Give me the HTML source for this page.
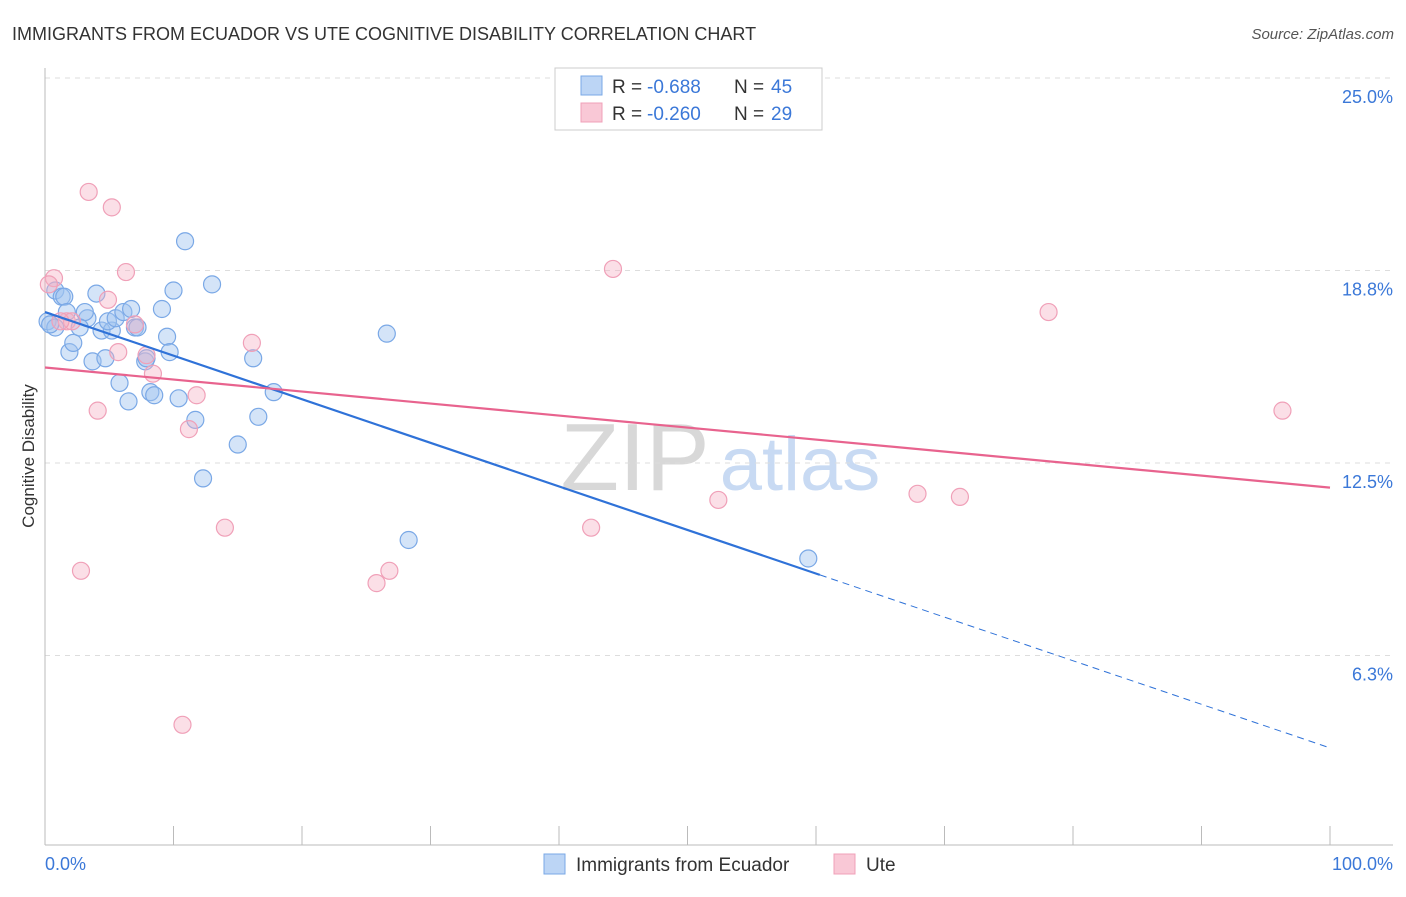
<!DOCTYPE html>
<html><head><meta charset="utf-8"><style>
body{margin:0;background:#fff;font-family:"Liberation Sans",sans-serif;}
svg text{font-family:"Liberation Sans",sans-serif;}
</style></head><body>
<svg id="chart" width="1406" height="892">
<text x="12" y="40" font-size="18" fill="#333">IMMIGRANTS FROM ECUADOR VS UTE COGNITIVE DISABILITY CORRELATION CHART</text>
<text x="1394" y="39" font-size="15" fill="#555" font-style="italic" text-anchor="end">Source: ZipAtlas.com</text>
<text x="34" y="456" font-size="17" fill="#333" text-anchor="middle" transform="rotate(-90 34 456)">Cognitive Disability</text>
<text x="635" y="490" font-size="96" fill="#d8d8d8" font-family="Liberation Serif" text-anchor="middle">ZIP</text>
<text x="800" y="490" font-size="76" fill="#c8daf3" text-anchor="middle">atlas</text>
<g id="grid"></g><g id="axes"></g><g id="pts"></g><g id="trend"></g>
<g>
<rect x="555" y="68" width="267" height="62" fill="#fff" stroke="#ccc"/>
<rect x="581" y="76" width="21" height="19" fill="#bcd5f5" stroke="#7aa8e6"/>
<rect x="581" y="103" width="21" height="19" fill="#f9c8d6" stroke="#f0a0b8"/>
<text x="612" y="93" font-size="19" fill="#333">R =</text>
<text x="647" y="93" font-size="19" fill="#3b78d8">-0.688</text>
<text x="734" y="93" font-size="19" fill="#333">N =</text>
<text x="771" y="93" font-size="19" fill="#3b78d8">45</text>
<text x="612" y="120" font-size="19" fill="#333">R =</text>
<text x="647" y="120" font-size="19" fill="#3b78d8">-0.260</text>
<text x="734" y="120" font-size="19" fill="#333">N =</text>
<text x="771" y="120" font-size="19" fill="#3b78d8">29</text>
</g>
<g>
<rect x="544" y="854" width="21" height="20" fill="#bcd5f5" stroke="#7aa8e6"/>
<text x="576" y="871" font-size="19" fill="#333">Immigrants from Ecuador</text>
<rect x="834" y="854" width="21" height="20" fill="#f9c8d6" stroke="#f0a0b8"/>
<text x="866" y="871" font-size="19" fill="#333">Ute</text>
</g>
</svg>
<script>
const blueX=[0.2,0.8,0.8,1.3,1.5,1.7,3.3,4.0,1.9,2.2,3.1,2.7,3.7,4.7,4.4,5.2,4.9,5.5,6.1,6.7,7.0,7.2,5.8,6.5,7.8,7.9,8.2,8.5,9.1,9.5,9.7,10.0,10.4,10.9,11.7,12.3,13.0,15.0,16.2,16.6,17.8,26.6,28.3,59.4,0.4];
const blueY=[17.1,16.9,18.1,17.9,17.9,17.4,17.2,18.0,16.1,16.4,17.4,16.9,15.8,15.9,16.8,16.8,17.1,17.2,17.4,17.5,16.9,16.9,15.1,14.5,15.8,15.9,14.8,14.7,17.5,16.6,16.1,18.1,14.6,19.7,13.9,12.0,18.3,13.1,15.9,14.0,14.8,16.7,10.0,9.4,17.0];
const pinkX=[0.7,0.3,3.4,5.2,6.3,4.9,1.7,2.1,4.1,2.8,5.7,7.0,7.9,8.4,11.2,11.8,10.7,14.0,16.1,25.8,26.8,42.5,44.2,52.4,67.9,71.2,78.1,96.3,1.2];
const pinkY=[18.5,18.3,21.3,20.8,18.7,17.8,17.1,17.1,14.2,9.0,16.1,17.0,16.0,15.4,13.6,14.7,4.0,10.4,16.4,8.6,9.0,10.4,18.8,11.3,11.5,11.4,17.4,14.2,17.1];
const yTicks=[6.25,12.5,18.75,25];
const yTickLabels=["6.3%","12.5%","18.8%","25.0%"];
const blueTrend=[17.4,3.25];
const blueSolidEnd=60.3;
const pinkTrend=[15.6,11.7];
const NS="http://www.w3.org/2000/svg";
const sx=v=>45+v*12.85, sy=v=>848-v*30.8;
function mk(t,a,p){const e=document.createElementNS(NS,t);for(const k in a)e.setAttribute(k,a[k]);p.appendChild(e);return e;}
const grid=document.getElementById('grid'),axes=document.getElementById('axes'),pts=document.getElementById('pts'),tr=document.getElementById('trend');
yTicks.forEach((t,i)=>{
 const l=mk('line',{x1:45,x2:1393,y1:sy(t),y2:sy(t),stroke:'#ddd','stroke-dasharray':'5,5'},grid);
 
 
 const tx=mk('text',{x:1393,y:sy(t)+25,'font-size':18,fill:'#3b78d8','text-anchor':'end'},grid);
 tx.textContent=yTickLabels[i];
 
 
});
mk('line',{x1:45,x2:45,y1:68,y2:845,stroke:'#bbb'},axes);
mk('line',{x1:45,x2:1393,y1:845,y2:845,stroke:'#bbb'},axes);
for(let i=0;i<=10;i++){const t=mk('line',{x1:sx(i*10),x2:sx(i*10),y1:826,y2:845,stroke:'#bbb'},axes);
 
 }
const x0=mk('text',{x:45,y:870,'font-size':18,fill:'#3b78d8'},axes);x0.textContent='0.0%';


const x1=mk('text',{x:1393,y:870,'font-size':18,fill:'#3b78d8','text-anchor':'end'},axes);x1.textContent='100.0%';


blueX.forEach((x,i)=>{const c=mk('circle',{cx:sx(x),cy:sy(blueY[i]),r:8.5,fill:'rgba(160,195,240,0.45)',stroke:'#7aa8e6','stroke-width':1.2},pts);
 
 });
pinkX.forEach((x,i)=>{const c=mk('circle',{cx:sx(x),cy:sy(pinkY[i]),r:8.5,fill:'rgba(245,175,195,0.4)',stroke:'#f0a0b8','stroke-width':1.2},pts);
 
 });
const bAt=x=>blueTrend[0]+(blueTrend[1]-blueTrend[0])*x/100;
const bl=mk('line',{x1:sx(0),y1:sy(bAt(0)),x2:sx(blueSolidEnd),y2:sy(bAt(blueSolidEnd)),stroke:'#2f72d8','stroke-width':2.2},tr);


const bd=mk('line',{x1:sx(blueSolidEnd),y1:sy(bAt(blueSolidEnd)),x2:sx(100),y2:sy(bAt(100)),stroke:'#2f72d8','stroke-width':1,'stroke-dasharray':'7,5'},tr);


const pl=mk('line',{x1:sx(0),y1:sy(pinkTrend[0]),x2:sx(100),y2:sy(pinkTrend[1]),stroke:'#e8638e','stroke-width':2.2},tr);


</script>
</body></html>
